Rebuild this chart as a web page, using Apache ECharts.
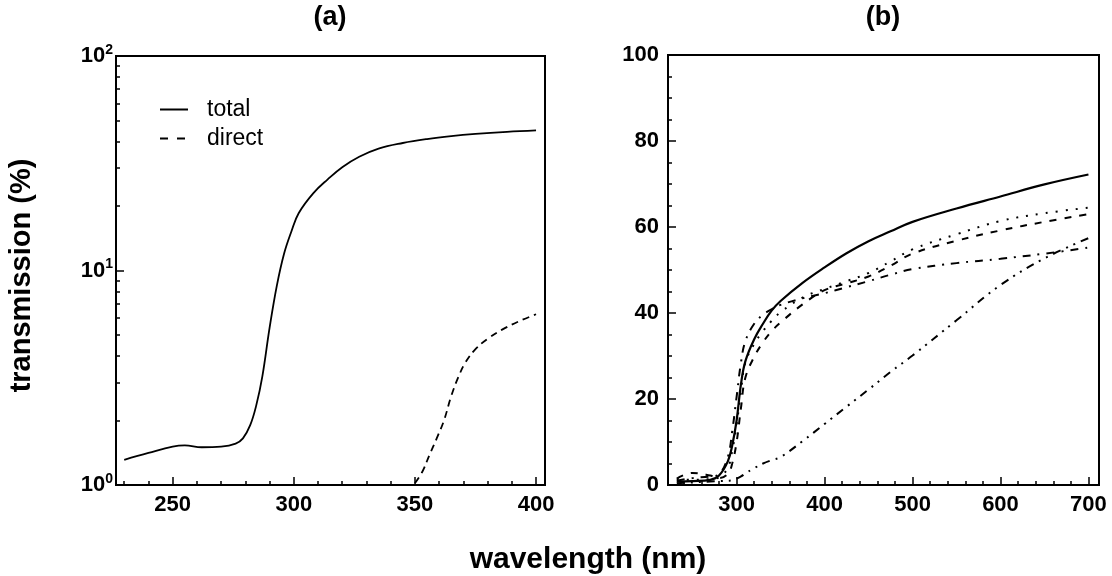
<!DOCTYPE html>
<html>
<head>
<meta charset="utf-8">
<title>transmission</title>
<script src="https://cdn.jsdelivr.net/npm/echarts@6/dist/echarts.min.js"></script>
<style>
    html, body { margin: 0; padding: 0; background: #fff; }
    #transmissionContainer { width: 1112px; height: 576px; }
</style>
</head>
<body>
<div id="transmissionContainer"></div>
<script>
// (a) total / direct, log scale
var wlTotalA = [230, 240, 250, 255, 262, 270, 276, 279, 282, 284.5, 287, 290, 293, 296, 299, 302, 308, 314, 320, 327, 335, 345, 355, 365, 375, 388, 400];
var totalA = [1.31, 1.41, 1.51, 1.53, 1.50, 1.51, 1.56, 1.65, 1.9, 2.35, 3.2, 5.4, 8.5, 12, 15.2, 18.5, 22.9, 26.6, 30.3, 33.9, 37, 39.3, 41, 42.3, 43.3, 44.3, 45];
var wlDirectA = [350, 353, 356, 359, 362, 365, 368, 371, 375, 380, 386, 393, 400];
var directA = [1.02, 1.15, 1.38, 1.65, 2.0, 2.6, 3.2, 3.75, 4.3, 4.8, 5.3, 5.8, 6.25];

// (b) five samples
var wlB = [232, 250, 270, 280, 290, 295, 300, 305, 310, 320, 330, 340, 350, 375, 400, 425, 450, 475, 500, 550, 600, 650, 700];
var solidB = [0.8, 0.9, 1.2, 2.2, 5.5, 9.2, 15, 23.5, 28.8, 33.9, 37.5, 40.6, 42.8, 47, 50.6, 53.9, 56.7, 59, 61.2, 64.3, 67.1, 69.9, 72.2];
var dottedB = [1.4, 1.2, 1.4, 1.8, 4, 8, 14, 22, 28.5, 32.8, 35.8, 38.2, 40.2, 43.6, 45.6, 47.4, 49.3, 52, 54.8, 58.3, 61.4, 63.2, 64.5];
var dashedB = [1.5, 2.8, 2.2, 1.6, 2.6, 5, 10, 18, 25, 29.8, 33.2, 35.8, 37.8, 42, 45.3, 46.9, 48.5, 51, 53.8, 56.8, 59.2, 61.2, 63];
var dashDotB = [1, 1.6, 2, 2.5, 6.5, 12.5, 20.5, 28.5, 33.5, 37.5, 39.6, 40.9, 41.9, 43.4, 44.6, 46, 47.4, 48.9, 50.2, 51.6, 52.6, 53.8, 55.2];
var dashDotDotB = [0.4, 0.6, 0.8, 0.9, 1, 1.1, 1.5, 2, 2.7, 3.9, 5, 5.8, 6.5, 10.2, 14.2, 18.2, 22.2, 26.3, 30.1, 38.3, 46.5, 52.7, 57.4];

// ticks
var xLabelsA = [250, 300, 350, 400];
var xMinorA = [230, 240, 260, 270, 280, 290, 310, 320, 330, 340, 360, 370, 380, 390];
var yMinorA = [2, 3, 4, 5, 6, 7, 8, 9, 20, 30, 40, 50, 60, 70, 80, 90];
var xLabelsB = [300, 400, 500, 600, 700];
var xMinorB = [240, 260, 280, 320, 340, 360, 380, 420, 440, 460, 480, 520, 540, 560, 580, 620, 640, 660, 680];

!function () {

    'use strict';

    var font = '"Liberation Sans", Arial, sans-serif';
    var container = document.getElementById('transmissionContainer');
    var chart;

    function pairs(xs, ys) {
        return xs.map(function (x, i) { return [x, ys[i]]; });
    }

    var tickLabel = { color: '#000', fontSize: 22, fontWeight: 'bold', fontFamily: font };

    function majorTick(len) {
        return { show: true, inside: true, length: len, lineStyle: { color: '#000', width: 1.5 } };
    }

    function line(name, xi, yi, data, type, width) {
        return {
            name: name,
            type: 'line',
            xAxisIndex: xi,
            yAxisIndex: yi,
            data: data,
            symbol: 'none',
            smooth: 0.4,
            animation: false,
            itemStyle: { color: '#000' },
            lineStyle: { color: '#000', width: width, type: type }
        };
    }

    var option = {
        backgroundColor: '#fff',
        animation: false,
        grid: [
            { left: 116, top: 56, width: 429, height: 429, show: true, borderColor: '#000', borderWidth: 2 },
            { left: 668, top: 55, width: 431, height: 430, show: true, borderColor: '#000', borderWidth: 2 }
        ],
        legend: {
            left: 155,
            top: 93,
            orient: 'vertical',
            itemWidth: 28,
            itemHeight: 14,
            itemGap: 6,
            data: [
                { name: 'total', icon: 'path://M0,0H28V2H0Z' },
                { name: 'direct', icon: 'path://M0,0H8V2H0Z M17,0H25V2H17Z M27.9,0H28V0.1H27.9Z' }
            ],
            itemStyle: { color: '#000', borderWidth: 0 },
            textStyle: { color: '#000', fontSize: 23, lineHeight: 22, fontFamily: font, padding: [0, 0, 0, 14] }
        },
        graphic: [
            { type: 'text', x: 330, y: 18, style: { text: '(a)', textAlign: 'center', textVerticalAlign: 'middle', fill: '#000', font: 'bold 27px ' + font } },
            { type: 'text', x: 883, y: 18, style: { text: '(b)', textAlign: 'center', textVerticalAlign: 'middle', fill: '#000', font: 'bold 27px ' + font } },
            { type: 'text', x: 588, y: 560, style: { text: 'wavelength (nm)', textAlign: 'center', textVerticalAlign: 'middle', fill: '#000', font: 'bold 30px ' + font } }
        ],
        xAxis: [
            {
                type: 'value', gridIndex: 0, min: 226.6, max: 403.7, position: 'bottom',
                axisLine: { show: false },
                axisTick: Object.assign(majorTick(8), { customValues: xLabelsA }),
                axisLabel: Object.assign({ customValues: xLabelsA, margin: 9 }, tickLabel),
                splitLine: { show: false }
            },
            {
                type: 'value', gridIndex: 0, min: 226.6, max: 403.7, position: 'bottom',
                axisLine: { show: false },
                axisTick: Object.assign(majorTick(4), { customValues: xMinorA }),
                axisLabel: { show: false },
                splitLine: { show: false }
            },
            {
                type: 'value', gridIndex: 1, min: 222, max: 712, position: 'bottom',
                axisLine: { show: false },
                axisTick: Object.assign(majorTick(8), { customValues: xLabelsB }),
                axisLabel: Object.assign({ customValues: xLabelsB, margin: 9 }, tickLabel),
                splitLine: { show: false }
            },
            {
                type: 'value', gridIndex: 1, min: 222, max: 712, position: 'bottom',
                axisLine: { show: false },
                axisTick: Object.assign(majorTick(4), { customValues: xMinorB }),
                axisLabel: { show: false },
                splitLine: { show: false }
            }
        ],
        yAxis: [
            {
                type: 'log', logBase: 10, gridIndex: 0, min: 1, max: 100, position: 'left',
                name: 'transmission (%)',
                nameLocation: 'middle',
                nameGap: 80,
                nameTextStyle: { color: '#000', fontSize: 29, fontWeight: 'bold', fontFamily: font, padding: [0, 10, 0, 0] },
                axisLine: { show: false },
                axisTick: majorTick(8),
                axisLabel: {
                    margin: 3,
                    formatter: function (v) {
                        var e = Math.round(Math.log(v) / Math.LN10);
                        return '{b|10}{s|' + e + '}';
                    },
                    rich: {
                        b: { color: '#000', fontSize: 22, fontWeight: 'bold', fontFamily: font, lineHeight: 26 },
                        s: { color: '#000', fontSize: 14, fontWeight: 'bold', fontFamily: font, lineHeight: 14, verticalAlign: 'top' }
                    }
                },
                splitLine: { show: false }
            },
            {
                type: 'log', logBase: 10, gridIndex: 0, min: 1, max: 100, position: 'left',
                axisLine: { show: false },
                axisTick: Object.assign(majorTick(4), { customValues: yMinorA }),
                axisLabel: { show: false },
                splitLine: { show: false }
            },
            {
                type: 'value', gridIndex: 1, min: 0, max: 100, interval: 20, position: 'left',
                axisLine: { show: false },
                axisTick: majorTick(8),
                minorTick: { show: true, splitNumber: 4, length: 4, lineStyle: { color: '#000', width: 1.5 } },
                axisLabel: Object.assign({ margin: 9 }, tickLabel),
                splitLine: { show: false },
                minorSplitLine: { show: false }
            }
        ],
        series: [
            line('total', 0, 0, pairs(wlTotalA, totalA), 'solid', 1.8),
            line('direct', 0, 0, pairs(wlDirectA, directA), [7, 5], 1.8),
            line('b-solid', 2, 2, pairs(wlB, solidB), 'solid', 2.2),
            line('b-dotted', 2, 2, pairs(wlB, dottedB), [2, 8], 2),
            line('b-dashed', 2, 2, pairs(wlB, dashedB), [7, 8], 2),
            line('b-dashdot', 2, 2, pairs(wlB, dashDotB), [8, 7, 2, 7], 2),
            line('b-dashdotdot', 2, 2, pairs(wlB, dashDotDotB), [8, 6, 2, 6, 2, 6], 2)
        ]
    };

    chart = echarts.init(container, null, { renderer: 'canvas' });
    chart.setOption(option);
}();
</script>
</body>
</html>
